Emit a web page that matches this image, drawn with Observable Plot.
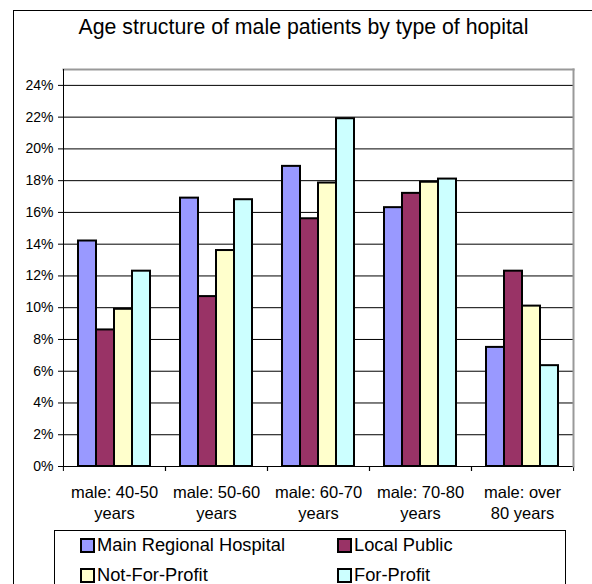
<!DOCTYPE html>
<html><head><meta charset="utf-8">
<script src="https://cdn.jsdelivr.net/npm/d3@7"></script>
<script src="https://cdn.jsdelivr.net/npm/@observablehq/plot@0.6"></script>
<style>
body{margin:0;background:#fff;font-family:Arial,"Liberation Sans",sans-serif;}
#wrap{position:relative;width:592px;height:584px;overflow:hidden;background:#fff;}
#border{position:absolute;left:13px;top:10px;width:800px;height:800px;border:1px solid #000;}
#title{position:absolute;left:0;width:607px;top:17px;text-align:center;font-size:21.3px;line-height:1;color:#000;white-space:nowrap;}
#chart{position:absolute;left:0;top:60px;}
#legend{position:absolute;left:54px;top:530px;width:510px;height:100px;border:1px solid #000;background:#fff;}
.item{position:absolute;display:flex;align-items:center;height:18px;line-height:1;font-size:18.3px;white-space:nowrap;color:#000;}
.sw{width:11px;height:11px;border:2px solid #000;margin-right:2px;}
</style></head>
<body><div id="wrap"><div id="border"></div><div id="title">Age structure of male patients by type of hopital</div><div id="chart"></div><div id="legend"></div></div>
<script>
const categories = ["male: 40-50 years", "male: 50-60 years", "male: 60-70 years", "male: 70-80 years", "male: over 80 years"];
const categoryLabels = ["male: 40-50\nyears", "male: 50-60\nyears", "male: 60-70\nyears", "male: 70-80\nyears", "male: over\n80 years"];
const series = ["Main Regional Hospital", "Local Public", "Not-For-Profit", "For-Profit"];
const mainRegional = [14.2, 16.9, 18.9, 16.3, 7.5];
const localPublic = [8.6, 10.7, 15.6, 17.2, 12.3];
const notForProfit = [9.9, 13.6, 17.85, 17.9, 10.1];
const forProfit = [12.3, 16.8, 21.9, 18.1, 6.35];
const colors = ["#9999FF", "#993366", "#FFFFCC", "#CCFFFF"];
const yTicks = [0, 2, 4, 6, 8, 10, 12, 14, 16, 18, 20, 22, 24];

const values = [mainRegional, localPublic, notForProfit, forProfit];
const data = [];
categories.forEach((c, i) => series.forEach((s, j) => data.push({category: c, series: s, value: values[j][i] / 100})));

const W = 592, ML = 62, MR = 19;
const fxStep = (W - ML - MR) / categories.length;
const font = 'Arial,"Liberation Sans",sans-serif';

const chart = Plot.plot({
  width: W, height: 465, marginTop: 9, marginBottom: 59, marginLeft: ML, marginRight: MR,
  style: {fontFamily: font, fontSize: "14px", background: "transparent", color: "#000", overflow: "visible"},
  fx: {domain: categories, padding: 0, label: null},
  x: {domain: series, paddingInner: 0, paddingOuter: 0.76, axis: null},
  y: {domain: [0, 0.25], label: null},
  color: {domain: series, range: colors},
  marks: [
    Plot.gridY(yTicks.map(d => d / 100), {stroke: "#000", strokeOpacity: 1, strokeWidth: 1}),
    Plot.barY(data, {fx: "category", x: "series", y: "value", fill: "series", stroke: "#000", strokeWidth: 2, inset: 0}),
    Plot.axisY(yTicks.map(d => d / 100), {tickSize: 5, tickPadding: 5, tickFormat: d => Math.round(d * 100) + "%", label: null, fontSize: 14}),
    Plot.axisFx({anchor: "bottom", tickSize: 0, tickPadding: 16.5, tickFormat: d => categoryLabels[categories.indexOf(d)], lineHeight: 1.27, label: null, fontSize: 16.5}),
    Plot.axisFx({anchor: "bottom", tickSize: 5, tickFormat: () => "", dx: -fxStep / 2, label: null}),
    Plot.axisFx({anchor: "bottom", tickSize: 5, tickFormat: () => "", dx: fxStep / 2, label: null}),
    Plot.ruleY([0], {stroke: "#000"}),
    Plot.frame({facet: "super", anchor: "top", stroke: "#999", strokeWidth: 2}),
    Plot.frame({facet: "super", anchor: "right", stroke: "#999", strokeWidth: 2}),
    Plot.frame({facet: "super", anchor: "left", stroke: "#000", strokeWidth: 1})
  ]
});
document.getElementById("chart").appendChild(chart);

const legend = document.getElementById("legend");
const pos = [[25, 5], [282, 5], [25, 35], [282, 35]];
series.forEach((s, i) => {
  const it = document.createElement("div");
  it.className = "item";
  it.style.left = pos[i][0] + "px";
  it.style.top = pos[i][1] + "px";
  const sw = document.createElement("div");
  sw.className = "sw";
  sw.style.background = colors[i];
  it.appendChild(sw);
  it.appendChild(document.createTextNode(s));
  legend.appendChild(it);
});
</script>
</body></html>
